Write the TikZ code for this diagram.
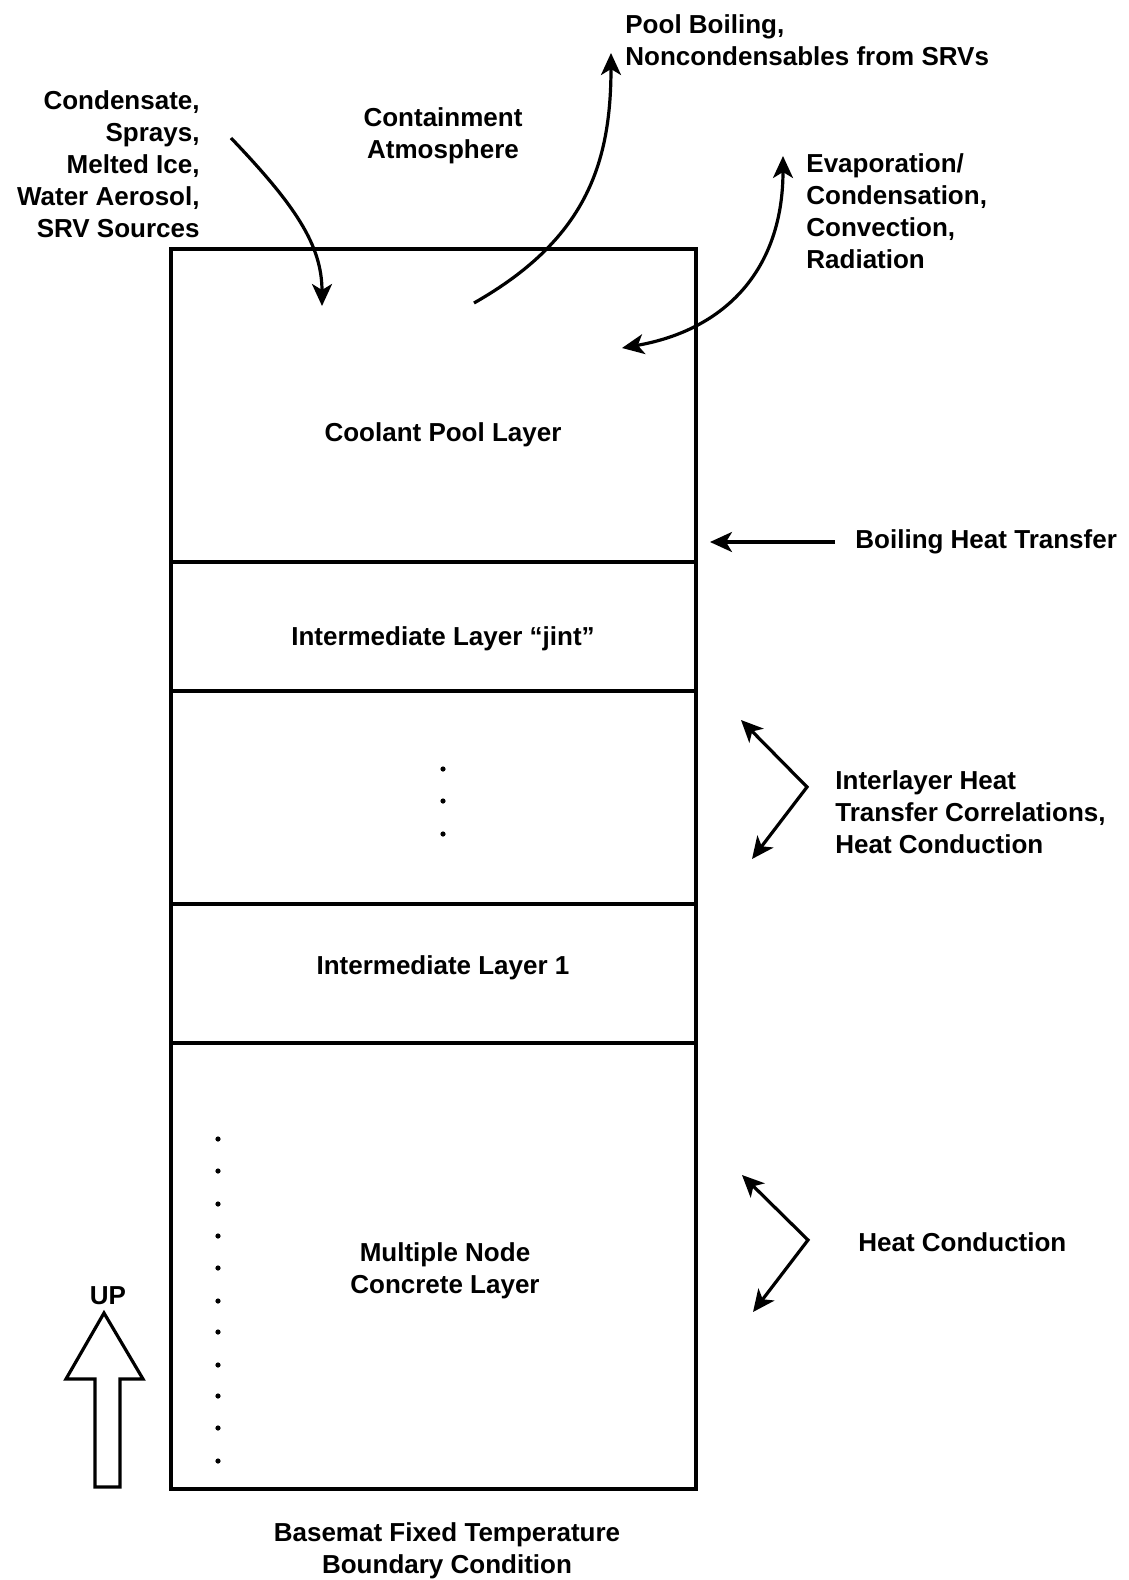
\documentclass[tikz,border=0pt]{standalone}
\usepackage{fontspec}
\setmainfont{Liberation Sans}
\usetikzlibrary{arrows.meta}
\begin{document}
\begin{tikzpicture}[x=0.5pt,y=-0.5pt,
  lbl/.style={font=\fontsize{13}{16}\selectfont\bfseries, inner sep=0pt},
  ln/.style={line width=1.6pt},
  tip/.tip={Stealth[length=11pt,width=10pt,inset=3pt]},
  arr/.style={ln, -tip},
  arrboth/.style={ln, tip-tip, line join=miter},
  dotm/.style={circle, fill, inner sep=0pt, minimum size=2.6pt},
  layer/.style={draw, line width=1.6pt, minimum width=262.5pt, inner sep=0pt}
]
\useasboundingbox (0,0) rectangle (1129,1580);

% layers
\node[layer, minimum height=156.5pt] (coolant) at (433.5,405.5) {};
\node[layer, minimum height=64.5pt] (jint) at (433.5,626.5) {};
\node[layer, minimum height=106.5pt] (mid) at (433.5,797.5) {};
\node[layer, minimum height=69.5pt] (one) at (433.5,973.5) {};
\node[layer, minimum height=223pt] (concrete) at (433.5,1266) {};

% layer labels
\node[lbl] (tcool) at (443,435) {Coolant Pool Layer};
\node[lbl] (tjint) at (443,639) {Intermediate Layer “jint”};
\node[lbl] (tone) at (443,968) {Intermediate Layer 1};
\node[lbl, align=center] (tconc) at (445,1271) {Multiple Node\\Concrete Layer};

% middle dots
\foreach \yy [count=\i] in {769,801,834}
  \node[dotm] (md\i) at (443,\yy) {};
% concrete dots
\foreach \yy [count=\i] in {1139,1171,1204,1236,1268,1301,1332,1365,1396,1428,1461}
  \node[dotm] (cd\i) at (218,\yy) {};

% outside labels
\node[lbl, align=right, anchor=east] (tsrc) at (200,164.5) {Condensate,\\Sprays,\\Melted Ice,\\Water Aerosol,\\SRV Sources};
\node[lbl, align=center] (tatm) at (443,136) {Containment\\Atmosphere};
\node[lbl, align=left, anchor=west] (tpool) at (625,40) {Pool Boiling,\\Noncondensables from SRVs};
\node[lbl, align=left, anchor=west] (tevap) at (806,211) {Evaporation/\\Condensation,\\Convection,\\Radiation};
\node[lbl, anchor=west] (tboil) at (855,542) {Boiling Heat Transfer};
\node[lbl, align=left, anchor=west] (tinter) at (835,812) {Interlayer Heat\\Transfer Correlations,\\Heat Conduction};
\node[lbl, anchor=west] (tcond) at (858,1242) {Heat Conduction};
\node[lbl, align=center] (tbase) at (447,1551) {Basemat Fixed Temperature\\Boundary Condition};
\node[lbl] (tup) at (108,1296) {UP};

% arrow end points
\coordinate (a1s) at (231,138);
\coordinate (a1e) at (322,306);
\coordinate (a2s) at (474,303);
\coordinate (a2e) at (611,53);
\coordinate (a3s) at (622,348);
\coordinate (a3e) at (783,156);
\coordinate (bs) at (835,542);
\coordinate (be) at (710,542);
\coordinate (c1t) at (741,720);
\coordinate (c1v) at (807,787);
\coordinate (c1b) at (752,859);
\coordinate (c2t) at (742,1175);
\coordinate (c2v) at (808,1240);
\coordinate (c2b) at (753,1312);

\draw[arr] (a1s) .. controls (295,205) and (322,245) .. (a1e);
\draw[arr] (a2s) .. controls (585,240) and (611,165) .. (a2e);
\draw[arrboth] (a3s) .. controls (725,330) and (783,270) .. (a3e);
\draw[arr] (bs) -- (be);
\draw[arrboth] (c1t) -- (c1v) -- (c1b);
\draw[arrboth] (c2t) -- (c2v) -- (c2b);

% UP arrow
\draw[ln, line join=miter] (104,1313) -- (143,1379) -- (120,1379) -- (120,1487)
  -- (95,1487) -- (95,1379) -- (66,1379) -- cycle;
\end{tikzpicture}
\end{document}
